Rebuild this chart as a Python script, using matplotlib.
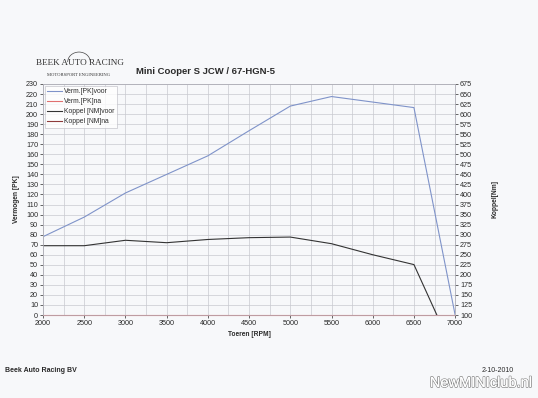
import matplotlib
matplotlib.use("Agg")
import matplotlib.pyplot as plt
import matplotlib.patheffects as pe
from matplotlib.patches import Arc
from matplotlib.ticker import MultipleLocator

plt.rcParams["font.family"] = ["Liberation Sans", "DejaVu Sans"]

# ---------------------------------------------------------------------------
# Dyno data
# ---------------------------------------------------------------------------
rpm = [2000, 2500, 3000, 3500, 4000, 4500, 5000, 5500, 6000, 6500, 7000]
pk_voor = [78, 97.5, 121.5, 140, 158.5, 183.5, 208, 217.5, 212, 206.5, 0]
pk_na = [0, 0, 0, 0, 0, 0, 0, 0, 0, 0, 0]
nm_voor = [272.5, 272.5, 286, 280, 288, 292.5, 294, 277.5, 250, 225.5, 0]
nm_na = [0, 0, 0, 0, 0, 0, 0, 0, 0, 0, 0]

labels = ["Verm.[PK]voor", "Verm.[PK]na", "Koppel [NM]voor", "Koppel [NM]na"]

BG = "#f7f8fa"
GRID = "#c9cad0"
TXT = "#2a2a2a"

fig = plt.figure(figsize=(5.38, 3.98), dpi=100, facecolor=BG)
ax = fig.add_axes([0.080, 0.2085, 0.766, 0.5805], facecolor=BG)
ax2 = ax.twinx()

# --- Power (left axis) ---
h1, = ax.plot(rpm, pk_voor, color="#7f93c9", lw=0.8)
h2, = ax.plot(rpm, pk_na, color="#e07070", lw=0.8, clip_on=False, zorder=3)

# --- Torque (right axis) ---
h3, = ax2.plot(rpm, nm_voor, color="#333333", lw=0.8)
h4, = ax2.plot(rpm, nm_na, color="#8e3b3b", lw=0.8)

ax.set_xlim(2000, 7000)
ax.set_ylim(0, 230)
ax2.set_ylim(100, 675)

ax.xaxis.set_major_locator(MultipleLocator(500))
ax.xaxis.set_minor_locator(MultipleLocator(250))
ax.yaxis.set_major_locator(MultipleLocator(10))
ax2.yaxis.set_major_locator(MultipleLocator(25))

ax.grid(True, which="both", axis="x", color=GRID, lw=0.5)
ax.grid(True, which="major", axis="y", color=GRID, lw=0.5)
ax.set_axisbelow(True)

for a in (ax, ax2):
    a.tick_params(labelsize=5.2, colors=TXT, length=2, width=0.5, pad=1.5)
    a.tick_params(which="minor", length=0)
    for s in a.spines.values():
        s.set_color("#b0b0b8")
        s.set_linewidth(0.5)

ax.set_xlabel("Toeren [RPM]", fontsize=4.8, fontweight="bold", color=TXT, labelpad=3)
ax.set_ylabel("Vermogen [PK]", fontsize=4.8, fontweight="bold", color=TXT, labelpad=4)
ax2.set_ylabel("Koppel[Nm]", fontsize=4.8, fontweight="bold", color=TXT, labelpad=14)

leg = ax.legend([h1, h2, h3, h4], labels, loc="upper left", fontsize=4.9,
                frameon=True, fancybox=False, borderaxespad=0.25,
                handlelength=2.2, handletextpad=0.3, labelspacing=0.45,
                borderpad=0.35)
leg.get_frame().set_edgecolor("#b8b8c0")
leg.get_frame().set_linewidth(0.5)
leg.get_frame().set_facecolor("white")
for t in leg.get_texts():
    t.set_color(TXT)

# --- Header: title and logo ---
fig.text(205 / 538, 1 - 71 / 398, "Mini Cooper S JCW / 67-HGN-5", fontsize=6.8,
         fontweight="bold", color=TXT, ha="center", va="center")
fig.text(80 / 538, 1 - 63 / 398, "BEEK AUTO RACING", fontsize=6.6,
         family="Liberation Serif", color="#333333", ha="center", va="center")
fig.text(79 / 538, 1 - 75 / 398, "MOTORSPORT ENGINEERING", fontsize=3.3,
         family="Liberation Serif", color="#333333", ha="center", va="center")
fig.add_artist(Arc((79 / 538, 1 - 62 / 398), 0.042, 0.05, theta1=0, theta2=180,
                   transform=fig.transFigure, color="#444444", lw=0.5))

# --- Footer ---
fig.text(5 / 538, 1 - 370 / 398, "Beek Auto Racing BV", fontsize=5,
         fontweight="bold", color=TXT, ha="left", va="center")
fig.text(498 / 538, 1 - 370 / 398, "2-10-2010", fontsize=5, color=TXT,
         ha="center", va="center")
wm = fig.text(533 / 538, 1 - 383 / 398, "NewMINIclub.nl", fontsize=10.5,
              color="white", ha="right", va="center")
wm.set_path_effects([pe.withStroke(linewidth=1.1, foreground="#8a8a8a"), pe.Normal()])

fig.savefig("out.png", dpi=100, facecolor=BG)
